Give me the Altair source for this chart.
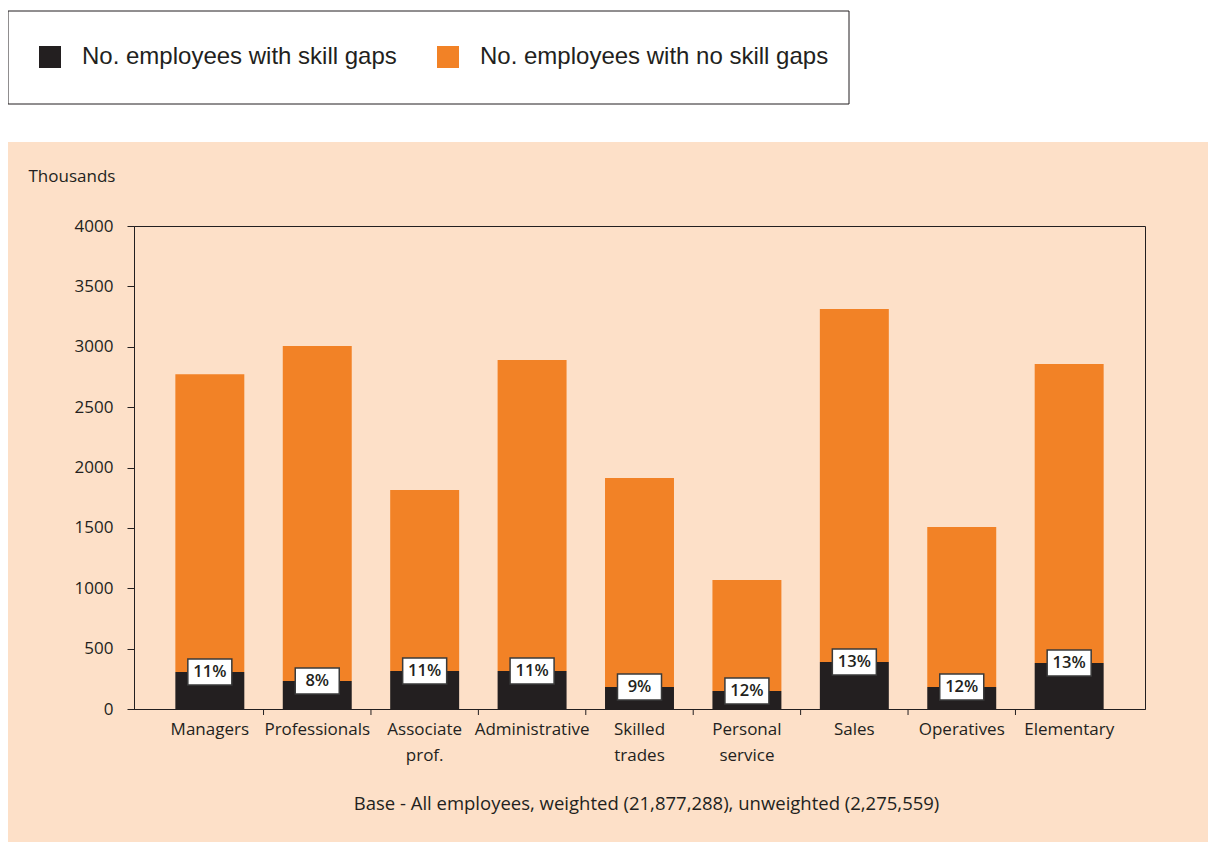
import altair as alt
import pandas as pd

categories = ["Managers", "Professionals", "Associate prof.", "Administrative",
              "Skilled trades", "Personal service", "Sales", "Operatives", "Elementary"]
totals = [2773, 3006, 1814, 2890, 1913, 1068, 3313, 1507, 2857]
with_gaps = [306, 232, 315, 315, 182, 149, 389, 182, 381]
pct_labels = ["11%", "8%", "11%", "11%", "9%", "12%", "13%", "12%", "13%"]
series = ["No. employees with skill gaps", "No. employees with no skill gaps"]
colors = ["#231f20", "#f28226"]
y_ticks = [0, 500, 1000, 1500, 2000, 2500, 3000, 3500, 4000]

rows = []
for c, t, g in zip(categories, totals, with_gaps):
    rows.append({"cat": c, "series": series[0], "value": g, "ord": 0})
    rows.append({"cat": c, "series": series[1], "value": t - g, "ord": 1})
bars_df = pd.DataFrame(rows)
lab_df = pd.DataFrame({"cat": categories, "gap": with_gaps, "pct": pct_labels})
tick_df = pd.DataFrame({"cat": categories[1:]})
one = pd.DataFrame({"a": [0]})

W, H = 1011, 483
INK = "#231f20"
FONT = "Open Sans"

xscale = alt.Scale(domain=categories, paddingInner=0, paddingOuter=0.206)
yscale = alt.Scale(domain=[0, 4000], nice=False)

x_axis = alt.Axis(
    title="Base - All employees, weighted (21,877,288), unweighted (2,275,559)",
    titleX=512, titleY=94, titleAlign="center", titleBaseline="middle",
    titleFont=FONT, titleFontSize=18.5, titleFontWeight="normal", titleColor=INK,
    labelAngle=0, labelExpr="split(datum.label, ' ')", labelLineHeight=26,
    labelPadding=12, labelFont=FONT, labelFontSize=17, labelColor=INK,
    ticks=False, domainColor=INK, grid=False)
y_axis = alt.Axis(
    values=y_ticks, format="d", title="Thousands", titleAngle=0, titleX=-106, titleY=-50,
    titleAlign="left", titleBaseline="middle", titleFont=FONT, titleFontSize=17,
    titleFontWeight="normal", titleColor=INK, labelFont=FONT, labelFontSize=17,
    labelColor=INK, labelPadding=14, tickSize=7, tickColor=INK, domainColor=INK,
    grid=False)

X = alt.X("cat:N", scale=xscale, sort=categories, axis=x_axis)

white_band = alt.Chart(one).mark_rect(color="white").encode(
    x=alt.value(-126), x2=alt.value(W + 63), y=alt.value(-218), y2=alt.value(-84))
legend_box = alt.Chart(one).mark_rect(fill="white", stroke="#231f20", strokeWidth=1).encode(
    x=alt.value(-126), x2=alt.value(715), y=alt.value(-215), y2=alt.value(-122))

bars = alt.Chart(bars_df).mark_bar(width=alt.RelativeBandSize(0.642)).encode(
    x=X,
    y=alt.Y("value:Q", stack="zero", scale=yscale, axis=y_axis),
    color=alt.Color("series:N", scale=alt.Scale(domain=series, range=colors),
                    legend=alt.Legend(title=None, orient="none", legendX=-96, legendY=-181,
                                      direction="horizontal", symbolType="square",
                                      symbolSize=484, symbolStrokeWidth=0,
                                      labelFont="Liberation Sans", labelFontSize=24,
                                      labelColor=INK, labelOffset=20, columnPadding=39,
                                      labelLimit=600, padding=0)),
    order=alt.Order("ord:Q"),
)

ticks = alt.Chart(tick_df).mark_rule(color=INK, strokeWidth=1).encode(
    x=alt.X("cat:N", scale=xscale, sort=categories, axis=x_axis, bandPosition=0),
    y=alt.value(H), y2=alt.value(H + 6))

boxes = alt.Chart(lab_df).mark_point(
    shape="M-1,-0.59L1,-0.59L1,0.59L-1,0.59Z", size=1936, filled=True,
    fill="white", stroke="#3a3a3a", strokeWidth=1.5, opacity=1).encode(
    x=X, y=alt.Y("gap:Q", scale=yscale, axis=y_axis))

texts = alt.Chart(lab_df).mark_text(
    font=FONT, fontSize=16.5, fontWeight=600, color=INK, baseline="middle").encode(
    x=X, y=alt.Y("gap:Q", scale=yscale, axis=y_axis), text="pct:N")

chart = alt.layer(white_band, legend_box, bars, ticks, boxes, texts).properties(
    width=W, height=H,
    autosize=alt.AutoSizeParams(type="none"),
    padding={"left": 126, "top": 218, "right": 63, "bottom": 133},
    background="#fde0c8",
).configure_view(stroke=INK, strokeWidth=1)

chart.save("out.html", embed_options={"renderer": "svg", "actions": False})
